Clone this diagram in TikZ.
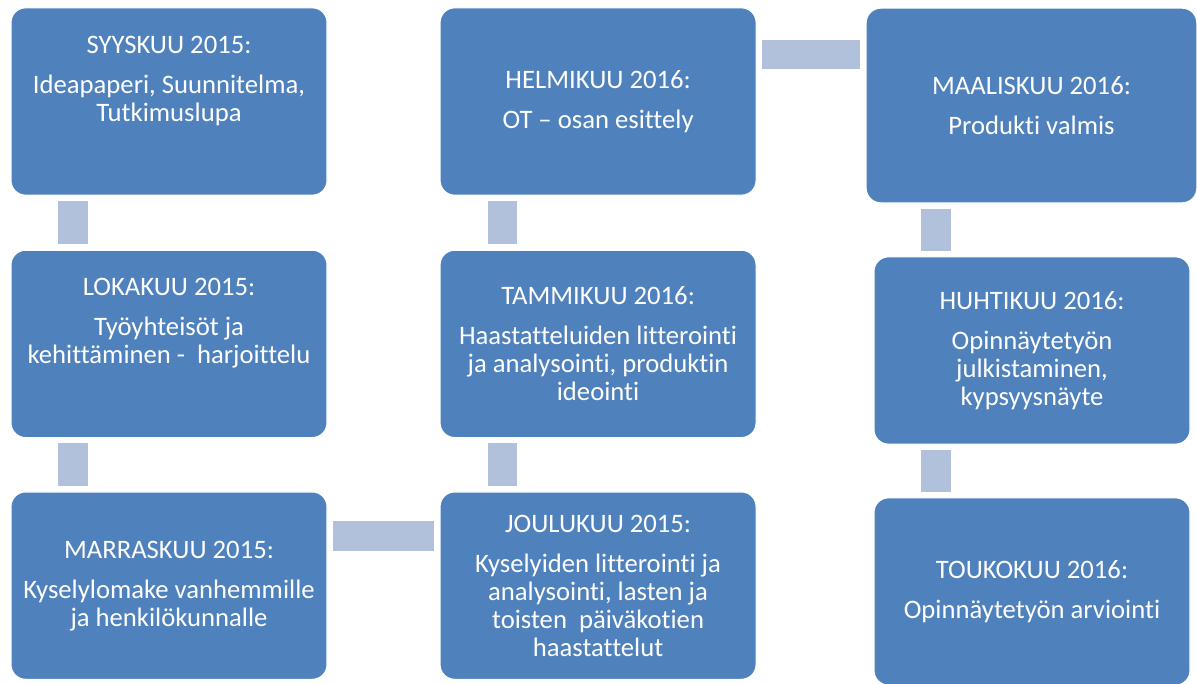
\documentclass[tikz,border=0pt]{standalone}
\usepackage{fontspec}
\setmainfont{Carlito}[Ligatures={NoCommon}]
\usetikzlibrary{positioning}
\definecolor{boxblue}{HTML}{4F81BD}
\definecolor{linkblue}{HTML}{B2C1DB}
\tikzstyle{stage} = [fill=boxblue, draw=white, line width=0.8pt, rectangle, rounded corners=11pt, minimum width=237pt, minimum height=140.5pt, align=center, text=white, inner sep=0pt, font=\fontsize{20}{21}\selectfont]
\tikzstyle{link} = [draw=linkblue, line width=22pt, shorten <=4pt, shorten >=4pt]

\begin{document}
\begin{tikzpicture}[x=0.75pt,y=-0.75pt]
		\useasboundingbox (0,0) rectangle (1197,684);
		\node (syys) [stage] at (169,101.5) {SYYSKUU 2015:\\[9pt]Ideapaperi, Suunnitelma,\\Tutkimuslupa\\[13pt]\mbox{}};
		\node (loka) [stage, below=40.5pt of syys] {LOKAKUU 2015:\\[9pt]Työyhteisöt ja\\kehittäminen -\ \ harjoittelu\\[13pt]\mbox{}};
		\node (marras) [stage, below=40pt of loka] {MARRASKUU 2015:\\[9pt]Kyselylomake vanhemmille\\ja henkilökunnalle};
		\node (helmi) [stage, right=84pt of syys] {HELMIKUU 2016:\\[9pt]OT – osan esittely};
		\node (tammi) [stage, below=40.5pt of helmi] {TAMMIKUU 2016:\\[9pt]Haastatteluiden litterointi\\ja analysointi, produktin\\ideointi};
		\node (joulu) [stage, below=40pt of tammi] {JOULUKUU 2015:\\[9pt]Kyselyiden litterointi ja\\analysointi, lasten ja\\toisten\ \ päiväkotien\\haastattelut};
		\node (maalis) [stage, minimum width=248pt, minimum height=146pt] at (1031.5,105.5) {MAALISKUU 2016:\\[9pt]Produkti valmis};
		\node (huhti) [stage] at (1032,350.5) {HUHTIKUU 2016:\\[9pt]Opinnäytetyön\\julkistaminen,\\kypsyysnäyte};
		\node (touko) [stage] at (1032,591.5) {TOUKOKUU 2016:\\[9pt]Opinnäytetyön arviointi};

		\draw [link] ([xshift=47pt]syys.south west) -- ([xshift=47pt]loka.north west);
		\draw [link] ([xshift=47pt]loka.south west) -- ([xshift=47pt]marras.north west);
		\draw [link] ([yshift=-33.4pt]marras.north east) -- ([yshift=-33.4pt]joulu.north west);
		\draw [link] ([xshift=47pt]joulu.north west) -- ([xshift=47pt]tammi.south west);
		\draw [link] ([xshift=47pt]tammi.north west) -- ([xshift=47pt]helmi.south west);
		\draw [link] ([yshift=-35.6pt]helmi.north east) -- ([yshift=-35.6pt]helmi.north east -| maalis.west);
		\draw [link] ([xshift=47pt]huhti.north west |- maalis.south) -- ([xshift=47pt]huhti.north west);
		\draw [link] ([xshift=47pt]huhti.south west) -- ([xshift=47pt]touko.north west);
	\end{tikzpicture}
\end{document}
